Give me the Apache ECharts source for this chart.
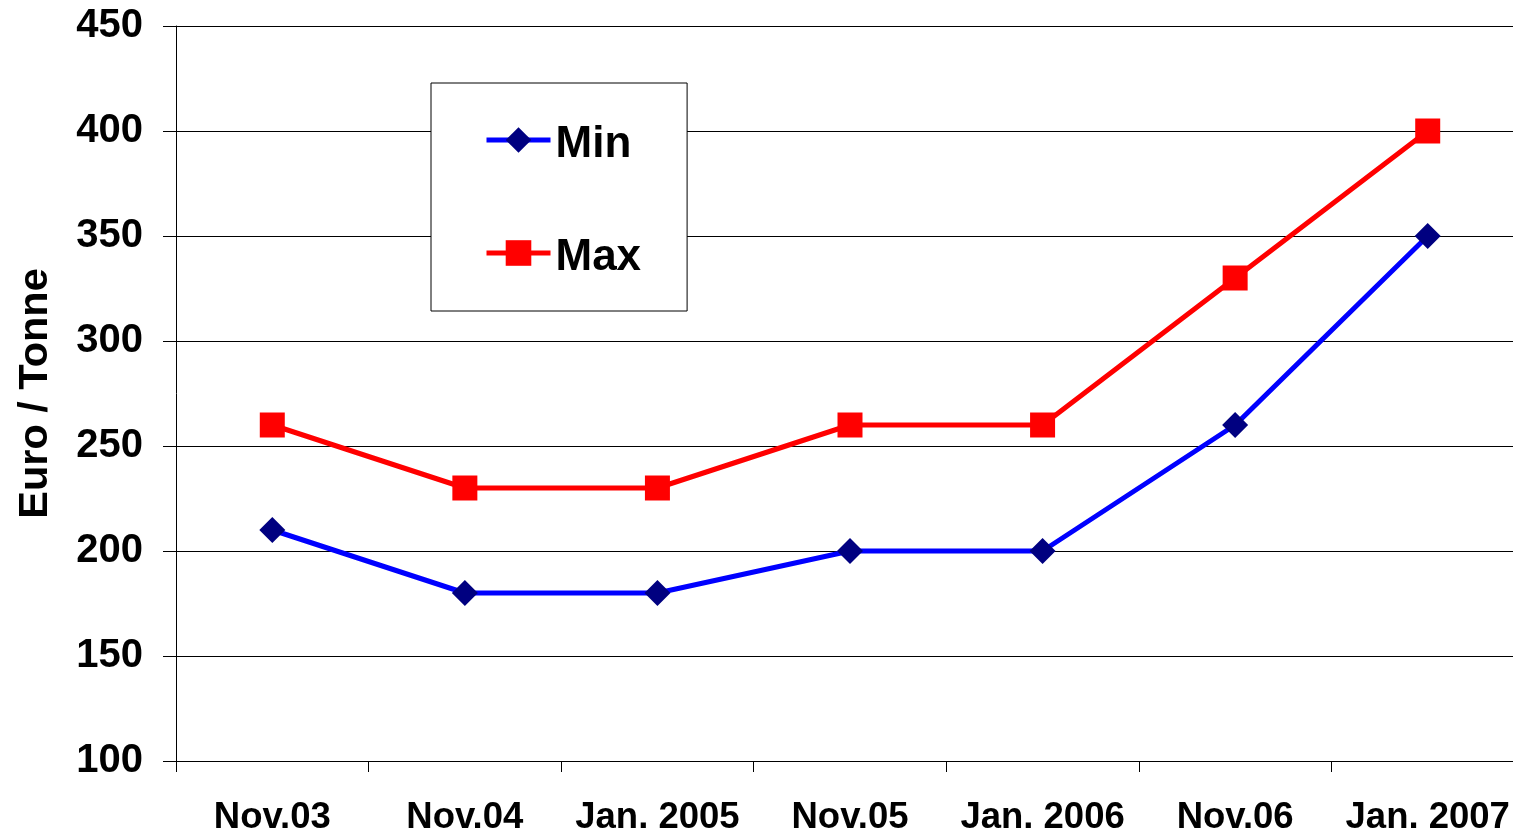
<!DOCTYPE html>
<html>
<head>
<meta charset="utf-8">
<script src="https://cdn.jsdelivr.net/npm/echarts@6/dist/echarts.min.js"></script>
<style>
  html, body { margin: 0; padding: 0; background: #fff; overflow: hidden; }
  /* 图表右侧超出视窗，与原图一致 */
  #myChart { width: 1524px; height: 831px; }
</style>
</head>
<body>
<div id="myChart"></div>
<script>
  // 数据
  var categories = ['Nov.03', 'Nov.04', 'Jan. 2005', 'Nov.05', 'Jan. 2006', 'Nov.06', 'Jan. 2007'];
  var minValues = [210, 180, 180, 200, 200, 260, 350];
  var maxValues = [260, 230, 230, 260, 260, 330, 400];
  var yMin = 100, yMax = 450, yStep = 50;

  var font = '"Liberation Sans", Arial, sans-serif';
  var myChart = echarts.init(document.getElementById('myChart'));
  var option = {
    animation: false,
    backgroundColor: '#fff',
    grid: { left: 176, right: 0, top: 26, bottom: 70, containLabel: false, outerBoundsMode: 'none' },
    legend: {
      orient: 'vertical',
      left: 431,
      top: 83,
      backgroundColor: '#fff',
      borderColor: '#000',
      borderWidth: 1,
      padding: [40, 46, 31, 53],
      itemGap: 69,
      itemWidth: 64,
      itemHeight: 32,
      lineStyle: { width: 5 },
      formatter: '{t|{name}}',
      textStyle: {
        fontFamily: font, fontWeight: 'bold', fontSize: 44, color: '#000',
        rich: { t: { fontFamily: font, fontWeight: 'bold', fontSize: 44, lineHeight: 54, verticalAlign: 'bottom' } }
      },
      data: ['Min', 'Max']
    },
    xAxis: {
      type: 'category',
      data: categories,
      boundaryGap: true,
      axisLine: { lineStyle: { color: '#000', width: 1 } },
      axisTick: { show: true, length: 11, lineStyle: { color: '#000' } },
      axisLabel: { margin: 38, fontFamily: font, fontWeight: 'bold', fontSize: 36.5, color: '#000', interval: 0 },
      splitLine: { show: false }
    },
    yAxis: {
      type: 'value',
      min: yMin,
      max: yMax,
      interval: yStep,
      name: 'Euro / Tonne',
      nameLocation: 'middle',
      nameGap: 119,
      nameTextStyle: { fontFamily: font, fontWeight: 'bold', fontSize: 41.5, color: '#000' },
      axisLine: { show: true, lineStyle: { color: '#000', width: 1 } },
      axisTick: { show: true, length: 13, lineStyle: { color: '#000' } },
      axisLabel: { margin: 33, fontFamily: font, fontWeight: 'bold', fontSize: 40, color: '#000' },
      splitLine: { show: true, lineStyle: { color: '#000', width: 1 } }
    },
    series: [
      {
        name: 'Min',
        type: 'line',
        data: minValues,
        symbol: 'diamond',
        symbolSize: 26,
        lineStyle: { color: '#0000FF', width: 5 },
        itemStyle: { color: '#000080', borderWidth: 0 }
      },
      {
        name: 'Max',
        type: 'line',
        data: maxValues,
        symbol: 'rect',
        symbolSize: 25,
        lineStyle: { color: '#FF0000', width: 5 },
        itemStyle: { color: '#FF0000', borderWidth: 0 }
      }
    ]
  };
  myChart.setOption(option);
</script>
</body>
</html>
